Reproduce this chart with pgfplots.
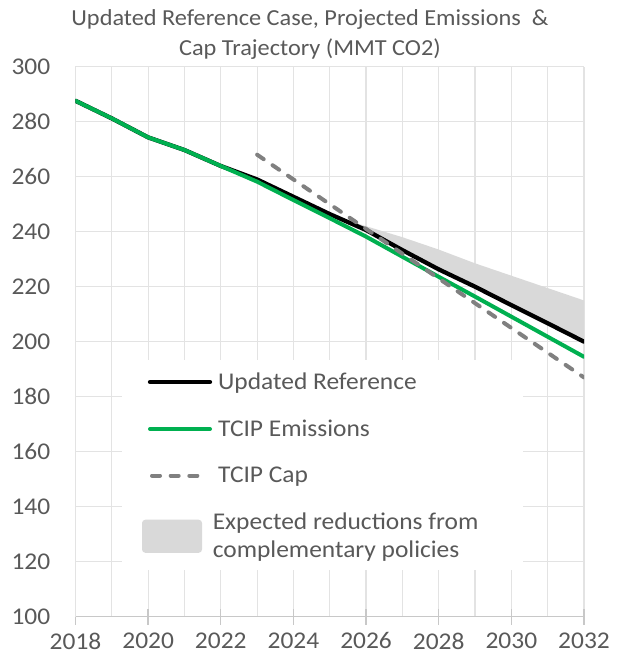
\documentclass[border=0pt]{standalone}
\usepackage{fontspec}
\setmainfont{Carlito}[FakeStretch=1.06]
\usepackage{pgfplots}
\pgfplotsset{compat=1.18}
\definecolor{txt}{HTML}{595959}
\definecolor{gridc}{HTML}{E3E3E3}
\definecolor{axc}{HTML}{C8C8C8}
\definecolor{tgreen}{HTML}{00B050}
\definecolor{capgrey}{HTML}{808080}
\definecolor{shade}{HTML}{D9D9D9}
\pgfplotsset{
  linelegend/.style={legend image code/.code={\draw[##1] (0pt,0pt) -- (45pt,0pt);}},
  dashlegend/.style={legend image code/.code={\draw[##1] (1.5pt,0pt) -- (36pt,0pt);}},
  arealegend/.style={legend image code/.code={\fill[##1, rounded corners=2.5pt] (-6pt,-8.65pt) rectangle (39pt,16.15pt);}},
}
\begin{document}
\begin{tikzpicture}
\path[use as bounding box] (-56.625pt,-32.475pt) rectangle (406.875pt,462.525pt);
\begin{axis}[
  at={(0pt,0pt)}, anchor=south west,
  scale only axis, width=381.375pt, height=412.5pt,
  xmin=2018, xmax=2032, ymin=100, ymax=300,
  xtick={2018,2020,...,2032}, minor xtick={2019,2021,...,2031},
  ytick={100,120,...,300},
  grid=both,
  major grid style={draw=gridc, line width=0.9pt},
  minor grid style={draw=gridc, line width=0.9pt},
  axis x line*=bottom, axis y line*=left,
  axis line style={-},
  x axis line style={draw=axc, line width=1pt},
  y axis line style={draw=gridc, line width=0.9pt},
  x tick style={draw=axc, line width=1pt},
  y tick style={draw=none},
  xtick align=center, major tick length=12pt, minor tick length=0pt,
  ytick align=outside,
  /pgf/number format/assume math mode=true,
  /pgf/number format/1000 sep={},
  tick label style={font=\fontsize{18}{21}\selectfont, text=txt},
  xticklabel style={inner sep=0pt, anchor=north, yshift=-5.75pt},
  yticklabel style={inner sep=0pt, anchor=east, xshift=-6.75pt},
  title={Updated Reference Case, Projected Emissions \ \&\\Cap Trajectory (MMT CO2)},
  title style={at={(axis description cs:0.461,1)}, anchor=south, inner sep=0pt,
    yshift=-1pt, align=center, font=\fontsize{17.2}{22.5}\selectfont, text=txt},
  legend cell align=left,
  legend style={at={(axis description cs:0.1308,0.4487)}, anchor=north west,
    fill=none, draw=none, inner sep=0pt, outer sep=0pt,
    font=\fontsize{18}{21}\selectfont, text=txt,
    row sep=17.4pt, column sep=0pt,
    cells={anchor=west, align=left},
    /tikz/every odd column/.append style={column sep=-1.5pt}},
]
\fill[white] (axis cs:2019.28,193.3) rectangle (axis cs:2030.32,117.0);
\addplot[fill=shade, draw=none, forget plot] coordinates {
  (2025,246.4) (2026,242.0) (2027,238.0) (2028,233.5) (2029,228.5)
  (2030,224.0) (2031,219.5) (2032,215.0)
  (2032,200.0) (2031,206.7) (2030,213.3) (2029,220.0) (2028,226.3)
  (2027,233.3) (2026,240.6) (2025,246.4)};
\addplot[black, line width=3.2pt, line join=round, line cap=round, linelegend] coordinates {
  (2018,287.6) (2019,281.2) (2020,274.3) (2021,269.7) (2022,263.9)
  (2023,259.0) (2024,252.7) (2025,246.4) (2026,240.6) (2027,233.3)
  (2028,226.3) (2029,220.0) (2030,213.3) (2031,206.7) (2032,200.0)};
\addlegendentry{Updated Reference}
\addplot[tgreen, line width=3pt, line join=round, line cap=round, linelegend] coordinates {
  (2018,287.6) (2019,281.2) (2020,274.3) (2021,269.7) (2022,263.9)
  (2023,258.2) (2024,251.5) (2025,244.9) (2026,238.2) (2027,230.9)
  (2028,223.6) (2029,216.4) (2030,209.1) (2031,201.8) (2032,194.5)};
\addlegendentry{TCIP Emissions}
\addplot[capgrey, line width=3pt, line cap=round, dash pattern=on 6pt off 8pt, dashlegend] coordinates {
  (2023,268) (2024,259) (2025,250) (2026,241) (2027,232)
  (2028,223) (2029,214) (2030,205) (2031,196) (2032,187)};
\addlegendentry{TCIP Cap}
\addlegendimage{fill=shade, draw=none, arealegend}
\addlegendentry[xshift=-4pt, yshift=3.75pt]{Expected reductions from\\complementary policies}
\end{axis}
\end{tikzpicture}
\end{document}
